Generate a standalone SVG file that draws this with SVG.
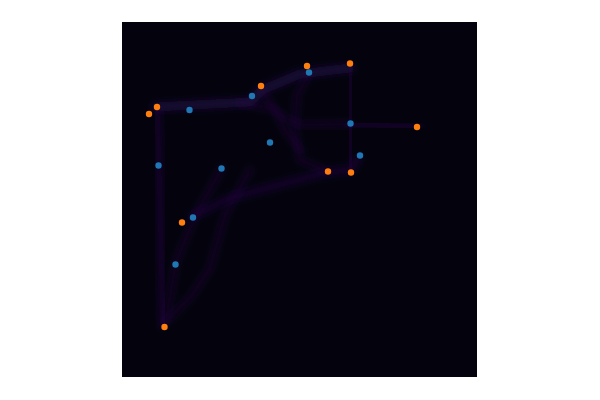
<svg xmlns="http://www.w3.org/2000/svg" width="600" height="400" viewBox="0 0 600 400">
<defs>
<style>
.band{fill:none;stroke:#2a1052;stroke-linecap:round;stroke-linejoin:round;filter:url(#blur)}
.b1{stroke-width:9;stroke-opacity:0.6}
.b2{stroke-width:9;stroke-opacity:0.38}
.b3{stroke-width:8;stroke-opacity:0.25}
.o{fill:#ff7f0e}
.bl{fill:#1f77b4}
</style>
<filter id="blur" x="-20%" y="-20%" width="140%" height="140%"><feGaussianBlur stdDeviation="3"/></filter>
</defs>
<rect width="600" height="400" fill="#ffffff"/>
<rect x="122" y="22" width="355" height="355" fill="#04030d"/>
<g id="trails">
<path class="band b1" d="M156,107 L250,102 L262,90 L300,74 L350,68"/>
<path class="band b2" d="M157,110 L160,200 L163,325"/>
<path class="band b3" d="M165,322 L190,298 L210,268 L225,215 L250,170"/>
<path class="band b3" d="M222,168 L196,214 L176,262 L166,320"/>
<path class="band b2" d="M193,216 L230,198 L290,182 L328,172 L351,170 L358,158"/>
<path class="band b2" d="M350,66 L350,124 L351,170"/>
<path class="band b2" d="M350,124 L417,127"/>
<path class="band b3" d="M309,74 L297,95 L295,130 L300,160 L328,172"/>
<path class="band b3" d="M240,103 L270,108 L283,116 L300,125 L350,124"/>
<path class="band b3" d="M262,90 L275,110 L285,130 L300,150"/>
</g>
<g id="points-orange">
<circle class="o" cx="157" cy="107" r="3.2"/>
<circle class="o" cx="149" cy="114" r="3.2"/>
<circle class="o" cx="261" cy="86" r="3.2"/>
<circle class="o" cx="307" cy="66" r="3.2"/>
<circle class="o" cx="350" cy="63.5" r="3.2"/>
<circle class="o" cx="417" cy="127" r="3.2"/>
<circle class="o" cx="328" cy="171.5" r="3.2"/>
<circle class="o" cx="351" cy="172.5" r="3.2"/>
<circle class="o" cx="182" cy="222.5" r="3.2"/>
<circle class="o" cx="164.5" cy="327" r="3.2"/>
</g>
<g id="points-blue">
<circle class="bl" cx="189.5" cy="110" r="3.2"/>
<circle class="bl" cx="252" cy="96" r="3.2"/>
<circle class="bl" cx="309" cy="72.5" r="3.2"/>
<circle class="bl" cx="350.5" cy="123.5" r="3.2"/>
<circle class="bl" cx="360" cy="155.5" r="3.2"/>
<circle class="bl" cx="270" cy="142.5" r="3.2"/>
<circle class="bl" cx="221.5" cy="168.5" r="3.2"/>
<circle class="bl" cx="158.5" cy="165.5" r="3.2"/>
<circle class="bl" cx="193" cy="217.5" r="3.2"/>
<circle class="bl" cx="175.5" cy="264.5" r="3.2"/>
</g>
</svg>
